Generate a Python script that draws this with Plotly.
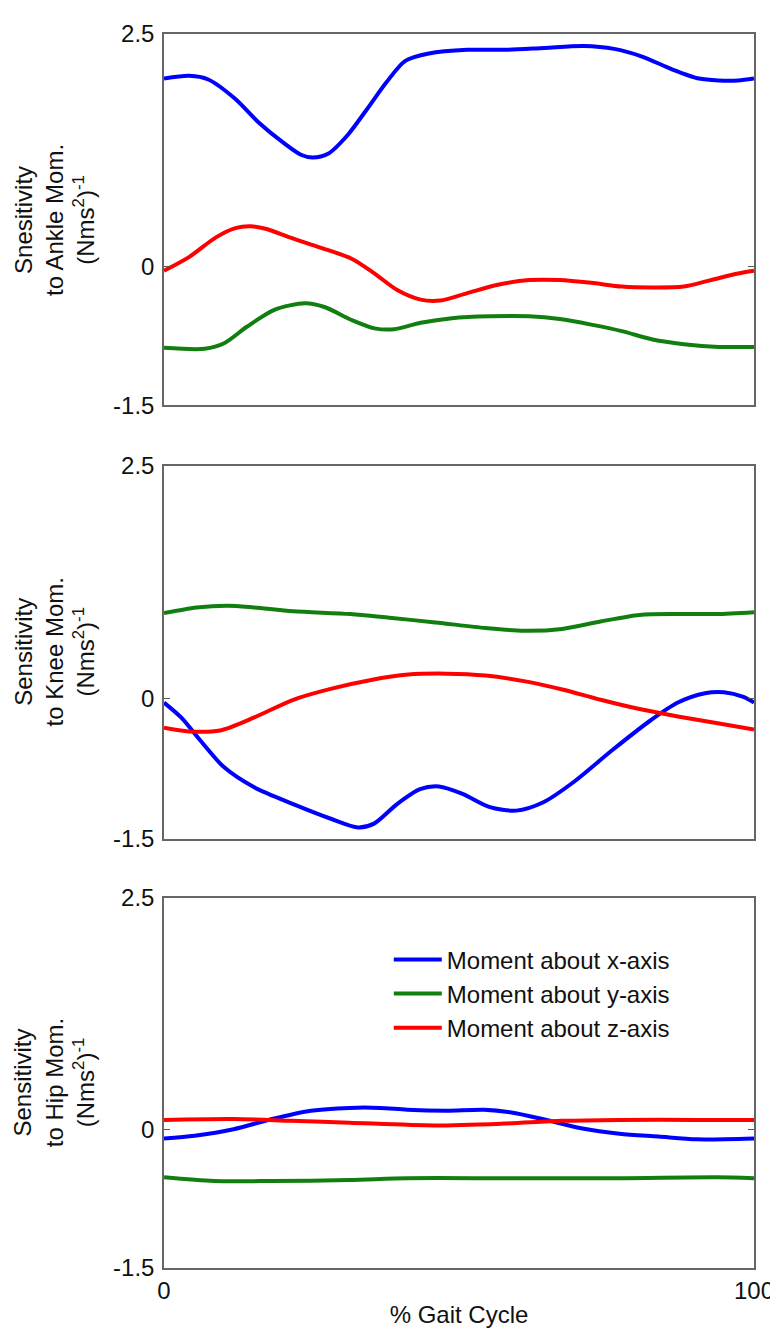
import plotly.graph_objects as go

# ---------------- data (x = % gait cycle, y = sensitivity) ----------------
ankle_x_gc = [0, 4.3, 7.5, 12.1, 16.0, 20.0, 23.2, 25.2, 27.8, 31.1, 34.4, 37.7, 40.9, 44.9,
              51.4, 58.0, 64.5, 71.1, 76.3, 80.9, 86.1, 90.7, 94.0, 97.3, 100]
ankle_x_val = [2.02, 2.05, 2.01, 1.80, 1.55, 1.34, 1.20, 1.17, 1.21, 1.41, 1.69, 1.98, 2.21, 2.29,
               2.33, 2.33, 2.35, 2.37, 2.34, 2.26, 2.12, 2.02, 2.00, 2.00, 2.02]
ankle_y_gc = [0, 6.9, 10.2, 14.1, 18.7, 23.9, 27.2, 31.8, 35.7, 39.0, 43.5, 48.8, 55.3, 61.9,
              67.1, 72.4, 77.6, 82.8, 88.1, 94.0, 100]
ankle_y_val = [-0.88, -0.89, -0.83, -0.65, -0.47, -0.40, -0.44, -0.58, -0.67, -0.68, -0.61, -0.56,
               -0.54, -0.54, -0.57, -0.63, -0.70, -0.79, -0.84, -0.87, -0.87]
ankle_z_gc = [0, 4.3, 8.8, 12.1, 14.7, 17.4, 21.3, 26.5, 31.8, 35.7, 39.6, 43.5, 46.8, 51.4,
              56.6, 61.9, 67.1, 72.4, 77.6, 82.8, 88.1, 92.7, 97.3, 100]
ankle_z_val = [-0.05, 0.10, 0.31, 0.41, 0.43, 0.40, 0.31, 0.20, 0.08, -0.08, -0.26, -0.36, -0.37,
               -0.29, -0.20, -0.15, -0.15, -0.18, -0.22, -0.23, -0.22, -0.15, -0.08, -0.05]

knee_x_gc = [0, 2.9, 6.2, 10.1, 15.3, 21.9, 28.4, 32.9, 35.6, 39.5, 43.4, 46.6, 50.6, 55.1,
             59.7, 64.3, 69.5, 76.0, 82.5, 87.1, 91.7, 94.9, 98.2, 100]
knee_x_val = [-0.04, -0.20, -0.45, -0.73, -0.95, -1.13, -1.29, -1.38, -1.34, -1.13, -0.97, -0.94,
              -1.02, -1.16, -1.20, -1.11, -0.89, -0.55, -0.23, -0.04, 0.06, 0.07, 0.02, -0.04]
knee_y_gc = [0, 5.5, 10.8, 15.3, 21.9, 31.6, 38.2, 46.0, 54.5, 61.0, 67.5, 74.0, 80.6, 87.1, 93.6, 100]
knee_y_val = [0.92, 0.98, 1.00, 0.98, 0.94, 0.91, 0.87, 0.82, 0.76, 0.73, 0.75, 0.83, 0.90, 0.91,
              0.91, 0.93]
knee_z_gc = [0, 4.2, 9.5, 15.3, 21.9, 28.4, 34.9, 41.4, 47.9, 54.5, 61.0, 67.5, 74.0, 80.6,
             87.1, 93.6, 100]
knee_z_val = [-0.31, -0.35, -0.34, -0.20, -0.01, 0.11, 0.20, 0.26, 0.27, 0.25, 0.19, 0.10, -0.01,
              -0.11, -0.19, -0.26, -0.33]

hip_x_gc = [0, 5.2, 11.8, 18.3, 24.9, 31.4, 36.6, 41.2, 47.8, 54.3, 58.9, 64.1, 70.7, 77.2,
            83.8, 90.3, 100]
hip_x_val = [-0.10, -0.07, 0.00, 0.11, 0.20, 0.23, 0.23, 0.21, 0.20, 0.21, 0.18, 0.11, 0.01,
             -0.05, -0.08, -0.11, -0.10]
hip_y_gc = [0, 8.5, 18.3, 31.4, 41.2, 57.6, 77.2, 93.6, 100]
hip_y_val = [-0.52, -0.56, -0.56, -0.55, -0.53, -0.53, -0.53, -0.52, -0.53]
hip_z_gc = [0, 11.8, 21.6, 31.4, 45.8, 57.6, 67.4, 77.2, 90.3, 100]
hip_z_val = [0.10, 0.11, 0.09, 0.07, 0.04, 0.06, 0.09, 0.10, 0.10, 0.10]

series_names = ["Moment about x-axis", "Moment about y-axis", "Moment about z-axis"]
y_ticks = [-1.5, 0, 2.5]
y_tick_text = ["-1.5", "0", "2.5"]
x_ticks = [0, 100]
x_tick_text = ["0", "100"]
panel_titles = [
    "Snesitivity<br>to Ankle Mom.<br>(Nms<sup>2</sup>)<sup>-1</sup>",
    "Sensitivity<br>to Knee Mom.<br>(Nms<sup>2</sup>)<sup>-1</sup>",
    "Sensitivity<br>to Hip Mom.<br>(Nms<sup>2</sup>)<sup>-1</sup>",
]
x_title = "% Gait Cycle"

# ---------------- styling ----------------
colors = ["#0000FF", "#107F10", "#FF0000"]
FONT = "Liberation Sans, Arial, sans-serif"
FS = 24
W, H = 778, 1328
ML, MR, MT, MB = 156, 26, 22, 59
domains = [[0.699, 1.0], [0.348, 0.650], [0.0, 0.300]]

panels = [
    [(ankle_x_gc, ankle_x_val), (ankle_y_gc, ankle_y_val), (ankle_z_gc, ankle_z_val)],
    [(knee_x_gc, knee_x_val), (knee_y_gc, knee_y_val), (knee_z_gc, knee_z_val)],
    [(hip_x_gc, hip_x_val), (hip_y_gc, hip_y_val), (hip_z_gc, hip_z_val)],
]

fig = go.Figure()
for p, panel in enumerate(panels):
    sfx = "" if p == 0 else str(p + 1)
    for s, (xs, ys) in enumerate(panel):
        fig.add_trace(go.Scatter(
            x=xs, y=ys, mode="lines", name=series_names[s],
            line=dict(color=colors[s], width=4, shape="spline", smoothing=0.8),
            showlegend=(p == 2), xaxis="x" + sfx, yaxis="y" + sfx,
        ))

layout = dict(
    width=W, height=H,
    margin=dict(l=ML, r=MR, t=MT, b=MB),
    paper_bgcolor="white", plot_bgcolor="white",
    font=dict(family=FONT, size=FS, color="#111111"),
    legend=dict(x=0.381, y=0.268, xanchor="left", yanchor="top",
                bgcolor="rgba(255,255,255,0)", font=dict(size=FS),
                itemwidth=48, tracegroupgap=0),
    annotations=[],
)
for p in range(3):
    sfx = "" if p == 0 else str(p + 1)
    layout["xaxis" + sfx] = dict(
        domain=[0, 1], range=[0, 100], anchor="y" + sfx,
        tickvals=x_ticks, ticktext=x_tick_text,
        showticklabels=(p == 2), ticks="inside", ticklen=6, tickcolor="#555",
        showline=True, linecolor="#666", linewidth=1.5, mirror="ticks",
        showgrid=False, zeroline=False,
        tickfont=dict(size=FS),
        title=dict(text=x_title if p == 2 else "", standoff=4, font=dict(size=FS)),
    )
    layout["yaxis" + sfx] = dict(
        domain=domains[p], range=[-1.5, 2.5], anchor="x" + sfx,
        tickvals=y_ticks, ticktext=y_tick_text,
        ticks="inside", ticklen=6, tickcolor="#555", ticklabelstandoff=3,
        showline=True, linecolor="#666", linewidth=1.5, mirror="ticks",
        showgrid=False, zeroline=False, tickfont=dict(size=FS),
    )
    layout["annotations"].append(dict(
        text=panel_titles[p], textangle=-90, showarrow=False,
        xref="paper", yref="paper", x=-0.186, y=sum(domains[p]) / 2,
        xanchor="center", yanchor="middle", align="center",
        font=dict(size=FS, family=FONT),
    ))

fig.update_layout(layout)
fig.write_html("out.html")
